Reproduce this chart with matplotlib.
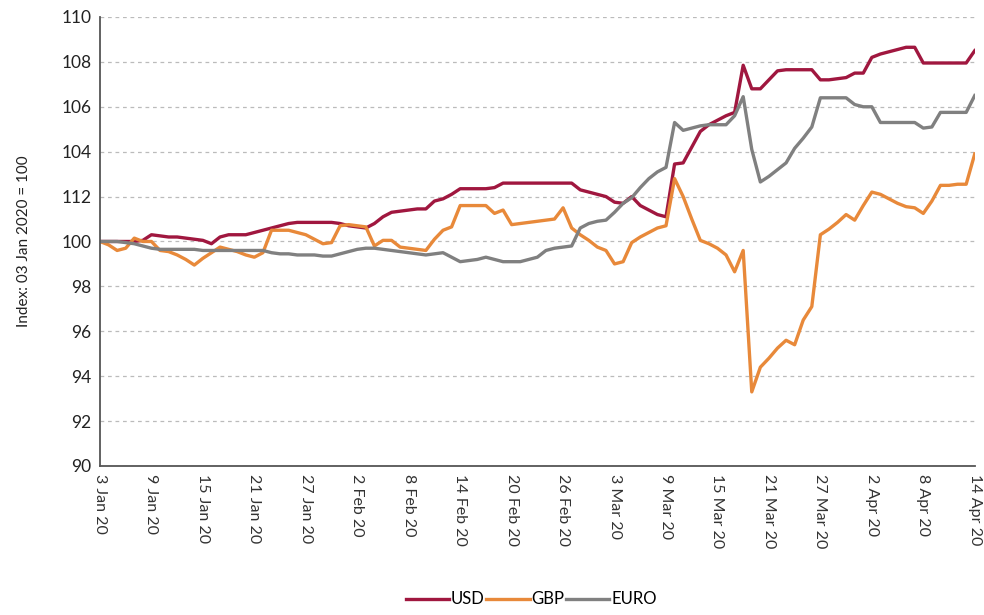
import matplotlib
matplotlib.use("Agg")
import matplotlib.pyplot as plt
import pandas as pd

# daily index values, 3 Jan 2020 = 100
dates = pd.date_range("2020-01-03", "2020-04-14", freq="D")

usd = [100.0, 100.0, 100.0, 100.0, 100.0, 100.05, 100.3,
       100.25, 100.2, 100.2, 100.15, 100.1, 100.05, 99.9,
       100.2, 100.3, 100.3, 100.3, 100.4, 100.5, 100.6,
       100.7, 100.8, 100.85, 100.85, 100.85, 100.85, 100.85,
       100.8, 100.7, 100.65, 100.6, 100.8, 101.1, 101.3,
       101.35, 101.4, 101.45, 101.45, 101.8, 101.9, 102.1,
       102.35, 102.35, 102.35, 102.35, 102.4, 102.6, 102.6,
       102.6, 102.6, 102.6, 102.6, 102.6, 102.6, 102.6,
       102.3, 102.2, 102.1, 102.0, 101.75, 101.7, 102.0,
       101.6, 101.4, 101.2, 101.1, 103.45, 103.5, 104.2,
       104.9, 105.2, 105.4, 105.6, 105.75, 107.85, 106.8,
       106.8, 107.2, 107.6, 107.65, 107.65, 107.65, 107.65,
       107.2, 107.2, 107.25, 107.3, 107.5, 107.5, 108.2,
       108.35, 108.45, 108.55, 108.65, 108.65, 107.95, 107.95,
       107.95, 107.95, 107.95, 107.95, 108.5]

gbp = [100.0, 99.85, 99.6, 99.7, 100.15, 100.0, 100.0,
       99.6, 99.55, 99.4, 99.2, 98.95, 99.25, 99.5,
       99.75, 99.65, 99.55, 99.4, 99.3, 99.5, 100.5,
       100.5, 100.5, 100.4, 100.3, 100.1, 99.9, 99.95,
       100.7, 100.75, 100.7, 100.65, 99.8, 100.05, 100.05,
       99.75, 99.7, 99.65, 99.6, 100.1, 100.5, 100.65,
       101.6, 101.6, 101.6, 101.6, 101.25, 101.4, 100.75,
       100.8, 100.85, 100.9, 100.95, 101.0, 101.5, 100.6,
       100.3, 100.05, 99.75, 99.6, 99.0, 99.1, 99.95,
       100.2, 100.4, 100.6, 100.7, 102.8, 102.0, 101.0,
       100.05, 99.9, 99.7, 99.4, 98.65, 99.6, 93.3,
       94.4, 94.8, 95.25, 95.6, 95.4, 96.5, 97.1,
       100.3, 100.55, 100.85, 101.2, 100.95, 101.6, 102.2,
       102.1, 101.9, 101.7, 101.55, 101.5, 101.25, 101.8,
       102.5, 102.5, 102.55, 102.55, 103.9]

euro = [100.0, 100.0, 100.0, 99.95, 99.9, 99.8, 99.7,
        99.65, 99.65, 99.65, 99.65, 99.65, 99.6, 99.6,
        99.6, 99.6, 99.6, 99.6, 99.6, 99.6, 99.5,
        99.45, 99.45, 99.4, 99.4, 99.4, 99.35, 99.35,
        99.45, 99.55, 99.65, 99.7, 99.7, 99.65, 99.6,
        99.55, 99.5, 99.45, 99.4, 99.45, 99.5, 99.3,
        99.1, 99.15, 99.2, 99.3, 99.2, 99.1, 99.1,
        99.1, 99.2, 99.3, 99.6, 99.7, 99.75, 99.8,
        100.6, 100.8, 100.9, 100.95, 101.3, 101.7, 101.95,
        102.4, 102.8, 103.1, 103.3, 105.3, 104.95, 105.05,
        105.15, 105.2, 105.2, 105.2, 105.6, 106.45, 104.1,
        102.65, 102.9, 103.2, 103.5, 104.15, 104.6, 105.1,
        106.4, 106.4, 106.4, 106.4, 106.1, 106.0, 106.0,
        105.3, 105.3, 105.3, 105.3, 105.3, 105.05, 105.1,
        105.75, 105.75, 105.75, 105.75, 106.5]

y_ticks = [90, 92, 94, 96, 98, 100, 102, 104, 106, 108, 110]
y_labels = ["90", "92", "94", "96", "98", "100", "112", "104", "106", "108", "110"]
x_ticks = pd.date_range("2020-01-03", "2020-04-14", freq="6D")
x_labels = ["3 Jan 20", "9 Jan 20", "15 Jan 20", "21 Jan 20", "27 Jan 20",
            "2 Feb 20", "8 Feb 20", "14 Feb 20", "20 Feb 20", "26 Feb 20",
            "3 Mar 20", "9 Mar 20", "15 Mar 20", "21 Mar 20", "27 Mar 20",
            "2 Apr 20", "8 Apr 20", "14 Apr 20"]

plt.rcParams["font.family"] = ["Lato", "DejaVu Sans"]

fig = plt.figure(figsize=(9.84, 6.15), dpi=100)
ax = fig.add_axes([0.1016, 0.2423, 0.889, 0.7301])

ax.plot(dates, usd, color="#A0173F", lw=2.4, label="USD")
ax.plot(dates, gbp, color="#E8893A", lw=2.4, label="GBP")
ax.plot(dates, euro, color="#808080", lw=2.4, label="EURO")

ax.set_ylim(90, 110)
ax.set_xlim(dates[0], dates[-1])
ax.set_yticks(y_ticks)
ax.set_yticklabels(y_labels, fontsize=12.5, color="#222222")
ax.set_xticks(x_ticks)
ax.set_xticklabels(x_labels, rotation=-90, fontsize=11.5, color="#333333")
ax.tick_params(axis="both", length=0, pad=6)

ax.grid(axis="y", color="#BBBBBB", linestyle=(0, (3, 3)), lw=0.9)
ax.set_axisbelow(True)
for s in ["top", "right"]:
    ax.spines[s].set_visible(False)
for s in ["left", "bottom"]:
    ax.spines[s].set_color("#555555")
    ax.spines[s].set_linewidth(1.3)

ax.set_ylabel("Index: 03 Jan 2020 = 100", fontsize=11, color="#222222", labelpad=22)

fig.legend(loc="lower center", bbox_to_anchor=(0.54, -0.012), ncol=3, frameon=False,
           fontsize=12, handlelength=2.6, handletextpad=0.1, columnspacing=0.1)

fig.savefig("out.png", dpi=100)
